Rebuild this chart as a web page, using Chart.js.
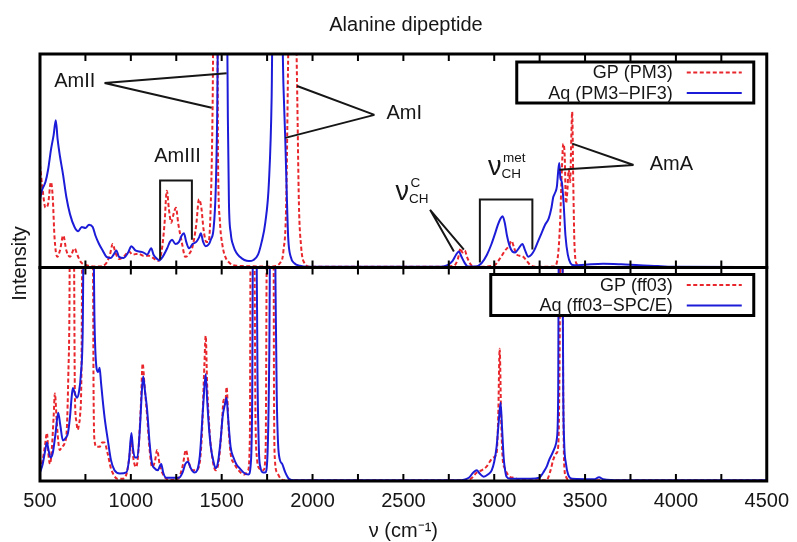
<!DOCTYPE html>
<html lang="en">
<head>
<meta charset="UTF-8">
<title>Alanine dipeptide</title>
<style>
  body { margin: 0; background: #fff; }
  #wrap { width: 797px; height: 542px; }
</style>
<script src="https://cdn.jsdelivr.net/npm/chart.js"></script>
</head>
<body>
<div id="wrap"><canvas id="spectra" width="797" height="542"></canvas></div>
<script>
// spectra: [wavenumber cm-1, intensity 0..100 of panel height]
// peaks that run off the panel are given 130 and get clipped
const gpPm3 = [
  [500, 48], [515, 36], [530, 28], [545, 30], [560, 40], [570, 33], [580, 14], [595, 5], [610, 8],
  [628, 15], [645, 8], [665, 5], [690, 9], [705, 6], [725, 2.5], [760, 1], [820, 0.5], [860, 1.5],
  [885, 6], [900, 11], [915, 7], [935, 4], [960, 5], [990, 7.5], [1010, 6], [1040, 6.5], [1070, 5.5],
  [1100, 5.5], [1130, 4], [1150, 3], [1170, 8], [1185, 20], [1198, 36], [1210, 27], [1222, 21],
  [1235, 25], [1248, 28], [1262, 20], [1280, 12], [1300, 5], [1318, 6], [1340, 10], [1360, 20],
  [1375, 32], [1388, 28], [1400, 18], [1415, 12], [1428, 12], [1440, 30], [1450, 75], [1456, 130],
  [1475, 130], [1480, 50], [1490, 22], [1505, 10], [1520, 5], [1545, 2], [1580, 0.8], [1780, 0.5],
  [1820, 2], [1840, 8], [1855, 30], [1866, 100], [1870, 130], [1905, 130], [1915, 85], [1925, 30],
  [1937, 10], [1950, 3], [1990, 0.3], [2700, 0.3], [2780, 1], [2800, 4], [2815, 9], [2825, 7],
  [2838, 8], [2850, 5], [2870, 1.5], [2890, 0.3], [3000, 1], [3030, 4], [3060, 8], [3080, 10],
  [3095, 12.5], [3110, 9], [3125, 6], [3140, 5.5], [3160, 5], [3180, 3], [3200, 1], [3230, 0.3],
  [3330, 0.5], [3350, 5], [3362, 20], [3372, 45], [3380, 58], [3388, 52], [3395, 30], [3402, 35],
  [3410, 46], [3418, 40], [3424, 60], [3429, 73], [3435, 40], [3442, 10], [3455, 1.5], [3480, 0.3],
  [4500, 0.2]
];
const aqPm3 = [
  [500, 32], [510, 36], [520, 38], [530, 40], [545, 46], [560, 55], [575, 62], [587, 69], [597, 60],
  [610, 52], [626, 44], [645, 33], [665, 25], [690, 19], [710, 17], [730, 19], [750, 18.5], [770, 20],
  [790, 19], [805, 15], [825, 11], [845, 8], [866, 5], [890, 4.5], [905, 6], [920, 8], [935, 5],
  [960, 4.5], [985, 7], [1003, 10], [1025, 8], [1046, 7.5], [1070, 7], [1090, 6], [1112, 9],
  [1125, 6], [1145, 4], [1156, 3.3], [1175, 5], [1200, 9], [1215, 12], [1227, 13], [1245, 11],
  [1265, 12], [1280, 15], [1292, 16], [1305, 12], [1320, 9], [1340, 11], [1360, 12], [1375, 14],
  [1385, 16], [1398, 12], [1412, 10], [1430, 11], [1440, 13], [1455, 18], [1467, 36], [1475, 70],
  [1482, 130], [1528, 130], [1534, 70], [1540, 30], [1550, 16], [1565, 10], [1580, 7], [1600, 5],
  [1625, 3.5], [1650, 3], [1675, 3.5], [1700, 6], [1720, 12], [1740, 21], [1760, 40], [1775, 80],
  [1782, 130], [1828, 130], [1840, 85], [1850, 60], [1858, 35], [1866, 14], [1880, 5], [1900, 2],
  [1930, 0.8], [1970, 0.3], [2700, 0.3], [2740, 1], [2770, 3], [2790, 6], [2805, 7.5], [2820, 5],
  [2835, 2.5], [2855, 0.5], [2900, 0.5], [2930, 2], [2960, 6], [2985, 11], [3005, 16], [3020, 20],
  [3035, 23], [3046, 24], [3058, 21], [3070, 15], [3085, 10], [3100, 7.5], [3115, 7], [3135, 9],
  [3155, 11], [3170, 8], [3188, 5], [3205, 6], [3220, 8], [3240, 12], [3260, 16], [3280, 20],
  [3300, 23], [3315, 28], [3325, 33], [3335, 35], [3345, 38], [3352, 45], [3358, 49], [3364, 42],
  [3372, 40], [3382, 30], [3392, 15], [3405, 6], [3420, 2], [3440, 1], [3500, 1.3], [3600, 1.8],
  [3700, 1.5], [3800, 1], [3900, 0.7], [4000, 0.3], [4500, 0.2]
];
const gpFf03 = [
  [500, 5], [515, 10], [528, 17], [538, 22.5], [547, 12], [555, 8], [565, 15], [575, 30], [582, 41],
  [592, 28], [600, 19], [609, 14.5], [620, 16], [637, 18], [648, 25], [656, 50], [662, 80], [665, 130],
  [685, 130], [692, 41], [700, 28], [708, 24], [715, 27], [720, 30], [728, 50], [735, 130], [790, 130],
  [795, 40], [800, 19], [812, 16], [828, 16], [842, 18], [855, 18], [872, 13], [890, 6], [905, 3],
  [925, 1], [950, 1], [975, 3], [990, 10], [1003, 19], [1015, 10], [1028, 6.5], [1040, 12], [1055, 35],
  [1065, 55], [1075, 45], [1090, 30], [1103, 15], [1117, 6.5], [1132, 9], [1145, 14.5], [1158, 8],
  [1172, 4], [1190, 1.5], [1210, 0.5], [1260, 1], [1285, 7], [1303, 14.5], [1318, 9], [1336, 5],
  [1355, 5], [1374, 6.5], [1390, 20], [1405, 55], [1412, 68], [1420, 45], [1434, 22.5], [1450, 10],
  [1467, 5], [1485, 10], [1500, 25], [1511, 38], [1520, 36], [1527, 44], [1538, 25], [1549, 13],
  [1570, 8], [1593, 5], [1625, 3], [1645, 5], [1655, 20], [1660, 130], [1678, 130], [1686, 30],
  [1695, 10], [1702, 6.5], [1730, 5], [1742, 15], [1750, 130], [1785, 130], [1788, 40], [1793, 10],
  [1805, 4], [1825, 1], [1850, 0.3], [2800, 0.3], [2870, 1], [2904, 4], [2930, 5], [2960, 7],
  [2975, 9], [2995, 11], [3013, 13], [3022, 30], [3030, 62], [3038, 30], [3046, 11], [3058, 6],
  [3068, 4], [3085, 2], [3106, 1.5], [3150, 0.5], [3287, 0.3], [3310, 5], [3325, 10], [3342, 13],
  [3352, 16], [3360, 60], [3364, 130], [3374, 130], [3380, 40], [3385, 8], [3395, 2], [3410, 0.3],
  [4500, 0.3]
];
const aqFf03 = [
  [500, 4], [515, 8], [528, 14], [538, 18], [548, 14], [558, 11], [570, 13], [585, 22], [600, 32],
  [612, 26], [626, 19], [640, 20], [654, 22.5], [665, 30], [675, 40], [681, 43.6], [692, 41], [703, 39],
  [715, 42], [725, 50], [735, 70], [742, 130], [792, 130], [800, 75], [811, 53], [820, 51], [828, 53],
  [836, 46], [845, 38], [858, 28], [872, 20], [890, 10], [910, 5], [940, 3.5], [975, 4], [990, 10],
  [1003, 22.5], [1012, 15], [1022, 11], [1036, 11], [1050, 25], [1062, 44], [1068, 49], [1078, 42],
  [1090, 33], [1103, 18], [1117, 8], [1130, 6], [1148, 5], [1160, 7], [1167, 8], [1178, 4], [1194, 1.5],
  [1265, 1.5], [1285, 4], [1300, 8], [1314, 9], [1330, 6], [1350, 4], [1365, 5], [1380, 12], [1398, 35],
  [1412, 50], [1420, 38], [1430, 25], [1440, 16], [1455, 9], [1467, 6], [1480, 9], [1495, 20], [1505, 30],
  [1518, 36], [1527, 39], [1535, 30], [1549, 16], [1565, 11], [1580, 8], [1593, 6.5], [1620, 4],
  [1647, 3], [1660, 8], [1668, 40], [1673, 130], [1690, 130], [1697, 50], [1705, 14], [1713, 6.5],
  [1728, 4], [1740, 4], [1752, 12], [1762, 60], [1768, 130], [1792, 130], [1797, 86], [1803, 40],
  [1810, 18], [1820, 10], [1833, 8], [1850, 4], [1870, 1], [1900, 0.3], [2800, 0.3], [2860, 1.5],
  [2885, 4], [2904, 5], [2920, 3.5], [2942, 2], [2965, 3], [2986, 5], [3000, 9], [3013, 16], [3025, 28],
  [3035, 36.6], [3043, 25], [3052, 11], [3060, 5], [3068, 2], [3090, 1], [3200, 1], [3248, 1.5],
  [3270, 4], [3290, 7], [3303, 10], [3320, 13], [3335, 16], [3345, 20], [3352, 40], [3356, 130],
  [3374, 130], [3380, 40], [3385, 18], [3395, 8], [3407, 3], [3430, 1], [3550, 0.8], [3577, 1.8],
  [3600, 0.8], [3700, 0.3], [4500, 0.3]
];

const xRange = [500, 4500];
const xMajorStep = 500;
const xMinorStep = 250;

// labels in the upper panel, positions in data units (cm-1, intensity)
const pointerLabels = [
  { text: 'AmII', at: [691, 87.9], from: [855, 86.4], to: [[1527, 91], [1445, 74.8]] },
  { text: 'AmI', at: [2505, 72.9], from: [2341, 71.5], to: [[1915, 85], [1850, 60.7]] },
  { text: 'AmA', at: [3975, 49], from: [3767, 48], to: [[3429, 58], [3358, 45.8]] },
  { nu: 'C', at: [2494, 35], from: [2647, 27], to: [[2778, 7.5], [2833, 8.4]] }
];
const bracketLabels = [
  { text: 'AmIII', at: [1257, 52.8], span: [1161, 1336], top: 40.7, ends: [3.7, 13] },
  { nu: 'met', at: [3003, 46.7], span: [2921, 3210], top: 31.8, ends: [2.3, 8.4] }
];

const RED = '#e8262b';
const BLUE = '#1c1cd8';
const INK = '#161616';
const FONT = '"Liberation Sans", Arial, sans-serif';

function toPoints(rows) {
  return rows.map(([x, y]) => ({ x: x, y: y }));
}

function drawLabelText(ctx, item, cx, cy) {
  if (item.text) {
    ctx.font = '20px ' + FONT;
    ctx.textAlign = 'center';
    ctx.textBaseline = 'alphabetic';
    ctx.fillText(item.text, cx, cy + 7);
    return;
  }
  // nu with CH subscript and a superscript
  ctx.font = '27px ' + FONT;
  ctx.textAlign = 'left';
  ctx.textBaseline = 'alphabetic';
  const w = ctx.measureText('ν').width;
  ctx.fillText('ν', cx - w / 2, cy + 7);
  ctx.font = '13.5px ' + FONT;
  ctx.fillText('CH', cx + w / 2, cy + 10);
  ctx.fillText(item.nu, cx + w / 2 + 1.5, cy - 6);
}

const spectraDecor = {
  id: 'spectraDecor',
  afterDatasetsDraw(chart) {
    const { ctx, chartArea: ca, scales: { x, yTop, yBot } } = chart;
    const px = v => x.getPixelForValue(v);
    const py = v => yTop.getPixelForValue(v);
    ctx.save();

    // annotations
    ctx.strokeStyle = INK;
    ctx.fillStyle = INK;
    ctx.lineWidth = 2;
    pointerLabels.forEach(item => {
      ctx.beginPath();
      item.to.forEach(t => {
        ctx.moveTo(px(item.from[0]), py(item.from[1]));
        ctx.lineTo(px(t[0]), py(t[1]));
      });
      ctx.stroke();
      drawLabelText(ctx, item, px(item.at[0]), py(item.at[1]));
    });
    bracketLabels.forEach(item => {
      const l = px(item.span[0]), r = px(item.span[1]), t = py(item.top);
      ctx.beginPath();
      ctx.moveTo(l, py(item.ends[0]));
      ctx.lineTo(l, t);
      ctx.lineTo(r, t);
      ctx.lineTo(r, py(item.ends[1]));
      ctx.stroke();
      drawLabelText(ctx, item, px(item.at[0]), py(item.at[1]));
    });

    // legends
    const legends = [
      { scale: yTop, sets: [0, 1], width: 237, dy: 8 },
      { scale: yBot, sets: [2, 3], width: 263, dy: 7 }
    ];
    legends.forEach(lg => {
      const right = ca.right - 13;
      const top = lg.scale.top + lg.dy;
      const h = 41;
      ctx.fillStyle = '#fff';
      ctx.fillRect(right - lg.width, top, lg.width, h);
      ctx.strokeStyle = '#000';
      ctx.lineWidth = 3;
      ctx.setLineDash([]);
      ctx.strokeRect(right - lg.width, top, lg.width, h);
      lg.sets.forEach((di, k) => {
        const ds = chart.data.datasets[di];
        const y = top + 10.5 + k * 20.5;
        ctx.fillStyle = INK;
        ctx.font = '18px ' + FONT;
        ctx.textAlign = 'right';
        ctx.textBaseline = 'middle';
        ctx.fillText(ds.label, right - 81, y + 1);
        ctx.strokeStyle = ds.borderColor;
        ctx.lineWidth = ds.borderWidth;
        ctx.setLineDash(ds.borderDash || []);
        ctx.beginPath();
        ctx.moveTo(right - 67, y);
        ctx.lineTo(right - 12, y);
        ctx.stroke();
      });
      ctx.setLineDash([]);
    });

    // panel frames and inward ticks
    ctx.strokeStyle = '#000';
    ctx.lineWidth = 3;
    [yTop, yBot].forEach(s => ctx.strokeRect(ca.left, s.top, ca.right - ca.left, s.bottom - s.top));
    ctx.lineWidth = 2;
    ctx.beginPath();
    for (let v = xRange[0] + xMinorStep; v < xRange[1]; v += xMinorStep) {
      const p = px(v);
      ctx.moveTo(p, yTop.top); ctx.lineTo(p, yTop.top + 7);
      ctx.moveTo(p, yTop.bottom - 7); ctx.lineTo(p, yTop.bottom + 7);
      ctx.moveTo(p, yBot.bottom - 7); ctx.lineTo(p, yBot.bottom);
    }
    ctx.stroke();

    // shared y title
    ctx.fillStyle = INK;
    ctx.font = '20px ' + FONT;
    ctx.textAlign = 'center';
    ctx.textBaseline = 'middle';
    ctx.translate(20, (yTop.top + yBot.bottom) / 2 - 4);
    ctx.rotate(-Math.PI / 2);
    ctx.fillText('Intensity', 0, 0);
    ctx.restore();
  }
};

const hiddenY = {
  type: 'linear',
  position: 'left',
  stack: 'panels',
  stackWeight: 1,
  min: 0,
  max: 100,
  ticks: { display: false },
  grid: { display: false, drawTicks: false },
  border: { display: false },
  afterFit: s => { s.width = 0; }
};

new Chart(document.getElementById('spectra'), {
  type: 'line',
  data: {
    datasets: [
      { label: 'GP (PM3)', data: toPoints(gpPm3), yAxisID: 'yTop', borderColor: RED, borderWidth: 2, borderDash: [4, 2.5], order: 2 },
      { label: 'Aq (PM3\u2212PIF3)', data: toPoints(aqPm3), yAxisID: 'yTop', borderColor: BLUE, borderWidth: 2, order: 1 },
      { label: 'GP (ff03)', data: toPoints(gpFf03), yAxisID: 'yBot', borderColor: RED, borderWidth: 2, borderDash: [4, 2.5], order: 2 },
      { label: 'Aq (ff03\u2212SPC/E)', data: toPoints(aqFf03), yAxisID: 'yBot', borderColor: BLUE, borderWidth: 2, order: 1 }
    ]
  },
  options: {
    responsive: false,
    animation: false,
    elements: { point: { radius: 0 }, line: { cubicInterpolationMode: 'monotone' } },
    layout: { padding: { left: 40, right: 25, top: 0, bottom: 0 } },
    plugins: {
      legend: { display: false },
      tooltip: { enabled: false },
      title: {
        display: true,
        text: 'Alanine dipeptide',
        color: INK,
        font: { family: FONT, size: 20, weight: 'normal' },
        padding: { top: 13, bottom: 17 }
      }
    },
    scales: {
      x: {
        type: 'linear',
        position: 'bottom',
        min: xRange[0],
        max: xRange[1],
        ticks: {
          stepSize: xMajorStep,
          color: INK,
          font: { family: FONT, size: 20 },
          padding: 8,
          maxRotation: 0,
          callback: v => String(v)
        },
        grid: { display: false, drawTicks: false },
        border: { display: false },
        title: {
          display: true,
          text: 'ν (cm⁻¹)',
          color: INK,
          font: { family: FONT, size: 20 },
          padding: { top: 0, bottom: -1 }
        },
        afterFit: s => { s.height = 61; }
      },
      yTop: Object.assign({}, hiddenY, { weight: 2 }),
      yBot: Object.assign({}, hiddenY, { weight: 1 })
    }
  },
  plugins: [spectraDecor]
});
</script>
</body>
</html>
